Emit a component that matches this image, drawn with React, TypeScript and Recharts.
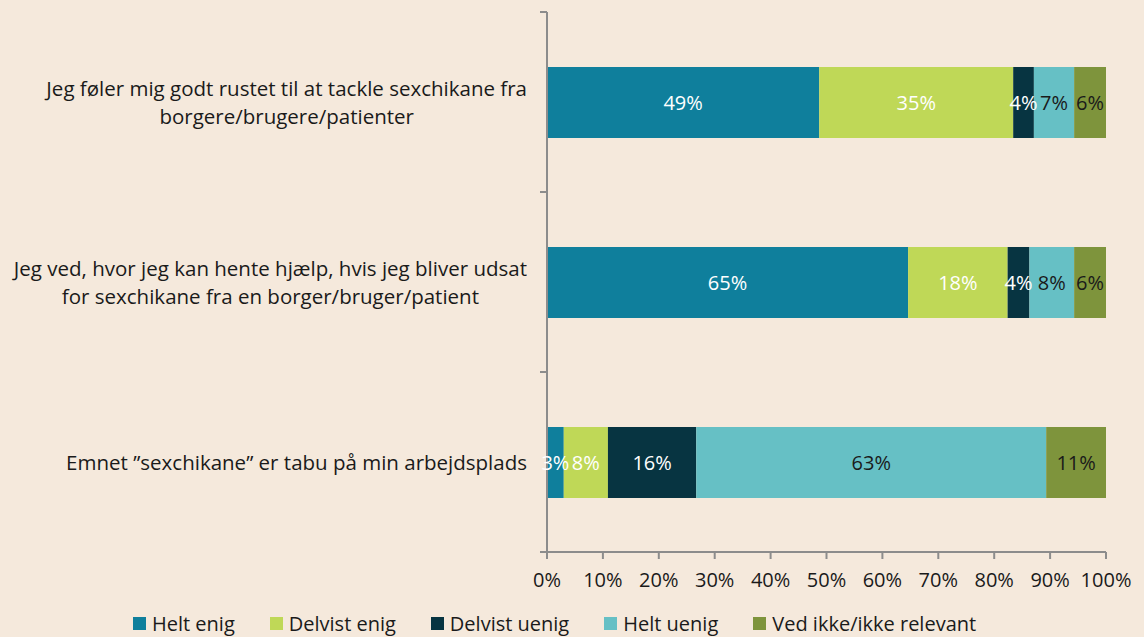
import React from 'react';
import { BarChart, Bar, XAxis, YAxis, Legend, LabelList, usePlotArea } from 'recharts';

const categories = [
  'Jeg føler mig godt rustet til at tackle sexchikane fra\nborgere/brugere/patienter',
  'Jeg ved, hvor jeg kan hente hjælp, hvis jeg bliver udsat\nfor sexchikane fra en borger/bruger/patient',
  'Emnet ”sexchikane” er tabu på min arbejdsplads',
];

const heltEnig = [48.7, 64.6, 3.0];
const delvistEnig = [34.7, 17.8, 7.9];
const delvistUenig = [3.7, 3.9, 15.8];
const heltUenig = [7.2, 8.0, 62.6];
const vedIkke = [5.7, 5.7, 10.7];

const xTicks = [0, 10, 20, 30, 40, 50, 60, 70, 80, 90, 100];

const series = [
  { key: 'heltEnig', name: 'Helt enig', color: '#0f7f9c', label: '#ffffff' },
  { key: 'delvistEnig', name: 'Delvist enig', color: '#bfd857', label: '#ffffff' },
  { key: 'delvistUenig', name: 'Delvist uenig', color: '#073441', label: '#ffffff' },
  { key: 'heltUenig', name: 'Helt uenig', color: '#66c0c5', label: '#1a1a1a' },
  { key: 'vedIkke', name: 'Ved ikke/ikke relevant', color: '#7e943c', label: '#1a1a1a' },
];

const data = categories.map((c, i) => ({
  category: c,
  heltEnig: heltEnig[i],
  delvistEnig: delvistEnig[i],
  delvistUenig: delvistUenig[i],
  heltUenig: heltUenig[i],
  vedIkke: vedIkke[i],
}));

const FONT = '"Open Sans", sans-serif';
const AXIS = '#8c8c8c';

function CategoryTick({ x, y, payload }: any) {
  const lines = String(payload.value).split('\n');
  return (
    <foreignObject x={0} y={y - 40} width={x} height={80}>
      <div
        style={{
          height: 80,
          display: 'flex',
          justifyContent: 'flex-end',
          alignItems: 'center',
          fontFamily: FONT,
          fontSize: 20.5,
          color: '#1a1a1a',
        }}
      >
        <div style={{ textAlign: 'center', lineHeight: '28px' }}>
          {lines.map((l, i) => (
            <div key={i} style={{ whiteSpace: 'nowrap' }}>{l}</div>
          ))}
        </div>
      </div>
    </foreignObject>
  );
}

// tick marks on the category axis sit at the band borders, not the centres
function BandTicks() {
  const area = usePlotArea();
  if (!area) return null;
  const n = categories.length;
  return (
    <g>
      {Array.from({ length: n + 1 }, (_, i) => {
        const y = area.y + (area.height * i) / n;
        return <line key={i} x1={area.x - 7} x2={area.x} y1={y} y2={y} stroke={AXIS} strokeWidth={2} />;
      })}
    </g>
  );
}

function LegendContent() {
  return (
    <div style={{ display: 'flex', height: 24, alignItems: 'center', fontFamily: FONT, fontSize: 20, color: '#1a1a1a' }}>
      {series.map((s) => (
        <div key={s.key} style={{ display: 'flex', alignItems: 'center', marginRight: 35 }}>
          <span style={{ width: 13, height: 13, background: s.color, marginRight: 6, display: 'inline-block' }} />
          <span>{s.name}</span>
        </div>
      ))}
    </div>
  );
}

export default function App() {
  return (
    <div style={{ position: 'absolute', left: 0, top: 0, width: 1144, height: 637, background: '#f5e9dc' }}>
      <BarChart
        width={1144}
        height={637}
        data={data}
        layout="vertical"
        margin={{ top: 12, right: 38, bottom: 2, left: 0 }}
        barSize={71}
      >
        <XAxis
          type="number"
          domain={[0, 100]}
          ticks={xTicks}
          tickFormatter={(v) => `${v}%`}
          stroke={AXIS}
          strokeWidth={2}
          tickSize={7}
          tickMargin={14}
          height={59}
          tick={{ fill: '#1a1a1a', fontSize: 20, fontFamily: FONT }}
        />
        <YAxis
          type="category"
          dataKey="category"
          width={547}
          stroke={AXIS}
          strokeWidth={2}
          tickLine={false}
          tickSize={0}
          tickMargin={20}
          tick={<CategoryTick />}
        />
        <Legend verticalAlign="bottom" content={<LegendContent />} wrapperStyle={{ left: 133, width: 1000 }} />
        {series.map((s) => (
          <Bar key={s.key} dataKey={s.key} name={s.name} stackId="a" fill={s.color} isAnimationActive={false}>
            <LabelList
              dataKey={s.key}
              position="center"
              formatter={(v: any) => `${Math.round(Number(v))}%`}
              fill={s.label}
              style={{ fontFamily: FONT, fontSize: 20 }}
            />
          </Bar>
        ))}
        <BandTicks />
      </BarChart>
    </div>
  );
}
